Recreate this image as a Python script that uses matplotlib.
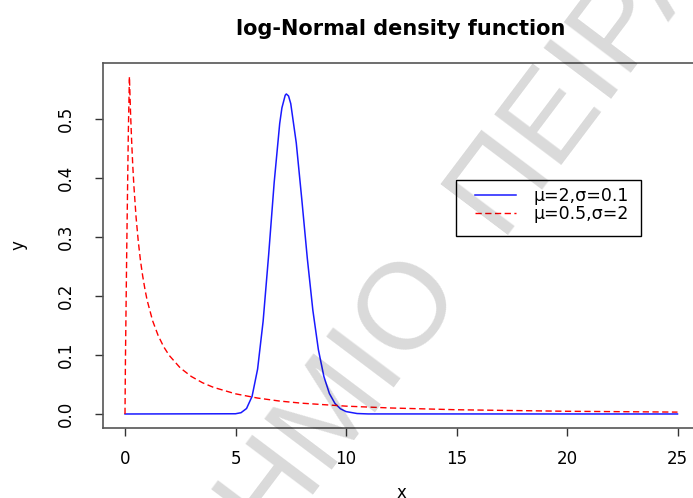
import matplotlib
matplotlib.use("Agg")
import matplotlib.pyplot as plt
from matplotlib.patches import Rectangle

plt.rcParams['font.family'] = ['DejaVu Sans']

# blue curve: mu=2, sigma=0.1
blue_x = [0, 5, 5.25, 5.5, 5.75, 6, 6.25, 6.5, 6.75, 7, 7.1, 7.25, 7.3, 7.4, 7.5,
          7.75, 8, 8.25, 8.5, 8.75, 9, 9.25, 9.5, 9.75, 10, 10.5, 11, 25]
blue_y = [0, 0.0004, 0.0022, 0.0093, 0.0299, 0.0761, 0.1573, 0.2698, 0.3924, 0.4924,
          0.5189, 0.5404, 0.5425, 0.5391, 0.5261, 0.4594, 0.3638, 0.2636, 0.1759,
          0.1091, 0.0634, 0.0346, 0.0179, 0.0088, 0.0041, 0.0008, 0.0001, 0]

# red curve: mu=0.5, sigma=2
red_x = [0, 0.02, 0.08, 0.15, 0.2, 0.25, 0.3, 0.35, 0.4, 0.5, 0.6, 0.7, 0.8, 0.9,
         1.0, 1.25, 1.5, 1.75, 2, 2.5, 3, 3.5, 4, 5, 6, 7, 8, 10, 12, 15, 20, 25]
red_y = [0, 0.092, 0.283, 0.476, 0.572, 0.511, 0.463, 0.422, 0.388, 0.334, 0.293,
         0.260, 0.234, 0.212, 0.193, 0.158, 0.133, 0.114, 0.0993, 0.0781, 0.0636,
         0.0531, 0.0452, 0.0342, 0.0270, 0.0219, 0.0183, 0.0133, 0.0102, 0.0072,
         0.0046, 0.0032]

labels = ["\u03bc=2,\u03c3=0.1", "\u03bc=0.5,\u03c3=2"]
x_ticks = [0, 5, 10, 15, 20, 25]
y_ticks = [0.0, 0.1, 0.2, 0.3, 0.4, 0.5]

W, H = 693, 498
fig = plt.figure(figsize=(W / 100, H / 100), dpi=100)
ax = fig.add_axes([102.9 / W, 1 - 427.5 / H, 596.7 / W, 364.5 / H])

ax.plot(blue_x, blue_y, color='#1a1aff', lw=1.1, label=labels[0])
ax.plot(red_x, red_y, color='#ff0000', lw=1.0, dashes=(4.5, 2.5), label=labels[1])

ax.set_xlim(-1, 26)
ax.set_ylim(-0.0229, 0.595)
ax.set_xticks(x_ticks)
ax.set_xticklabels([str(t) for t in x_ticks])
ax.set_yticks(y_ticks)
ax.set_yticklabels(["%.1f" % t for t in y_ticks], rotation=90, va='center')
ax.tick_params(direction='out', length=6, width=1, color='#333333', labelsize=12)
ax.tick_params(axis='x', pad=10)
ax.tick_params(axis='y', pad=14)
for s in ax.spines.values():
    s.set_color('#555555')
    s.set_linewidth(1.2)
ax.spines['right'].set_visible(False)

fig.text(401 / W, 1 - 493 / H, "x", ha='center', va='center', fontsize=12)
fig.text(18 / W, 1 - 245 / H, "y", ha='center', va='center', fontsize=12, rotation=90)
fig.text(401 / W, 1 - 29 / H, "log-Normal density function", ha='center', va='center',
         fontsize=15, fontweight='bold')

# legend: entries without frame, box drawn separately like R's legend()
leg = ax.legend(loc='upper left', bbox_to_anchor=(475 / W, 1 - 187 / H),
                bbox_transform=fig.transFigure, fontsize=12.5, frameon=False,
                handlelength=2.35, handletextpad=1.0, labelspacing=0.0,
                borderpad=0, borderaxespad=0)
fig.add_artist(Rectangle((456 / W, 1 - 236 / H), 185 / W, 56 / H,
                         transform=fig.transFigure, fill=False,
                         edgecolor='black', linewidth=1.0))

# watermark
wm = dict(fontsize=88, color='black', alpha=0.15, rotation=53,
          rotation_mode='anchor', va='center', zorder=10,
          family=['Liberation Sans', 'DejaVu Sans'])
fig.text(436 / W, 1 - 266 / H, "\u03a0\u0391\u039d\u0395\u03a0\u0399\u03a3\u03a4\u0397\u039c\u0399\u039f",
         ha='right', **wm)
fig.text(473 / W, 1 - 216 / H, "\u03a0\u0395\u0399\u03a1\u0391\u0399\u03a9\u03a3",
         ha='left', **wm)

fig.savefig("out.png", dpi=100)
